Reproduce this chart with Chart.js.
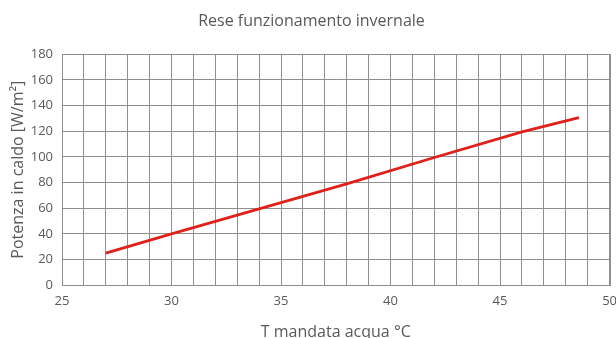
<!DOCTYPE html>
<html>
<head>
<meta charset="utf-8">
<script src="https://cdn.jsdelivr.net/npm/chart.js@4"></script>
<style>
  html,body{margin:0;padding:0;background:#fff;overflow:hidden;}
  #wrap{width:625px;height:342px;}
</style>
</head>
<body>
<div id="wrap"><canvas id="chart" width="625" height="342"></canvas></div>
<script>
  // curva resa invernale: temperatura mandata -> potenza
  const tMandata = [27, 30, 34, 38, 42, 46, 48.6];
  const potenza  = [25, 40, 59.5, 79, 99.5, 119.5, 130.5];

  const X_MIN = 25, X_MAX = 50, X_STEP = 1, X_LABEL_EVERY = 5;
  const Y_MIN = 0, Y_MAX = 180, Y_STEP = 20;

  const GREY_TXT = '#595959';
  const GRID = '#8f8f8f';
  const FONT = "'Open Sans', sans-serif";

  const pts = tMandata.map((t,i)=>({x:t, y:potenza[i]}));

  new Chart(document.getElementById('chart'), {
    type:'line',
    data:{ datasets:[{
      data: pts,
      borderColor:'#e0201b',
      borderWidth:2.8,
      pointRadius:0,
      tension:0,
      fill:false
    }]},
    options:{
      responsive:false,
      animation:false,
      layout:{ padding:{ left:9, right:11, top:3, bottom:0 } },
      plugins:{
        legend:{display:false},
        tooltip:{enabled:false},
        title:{
          display:true,
          text:'Rese funzionamento invernale',
          color:GREY_TXT,
          font:{family:FONT, size:16, weight:'normal'},
          padding:{top:9, bottom:23}
        }
      },
      scales:{
        x:{
          type:'linear',
          min:X_MIN, max:X_MAX,
          ticks:{
            stepSize:X_STEP,
            autoSkip:false,
            maxRotation:0,
            color:GREY_TXT,
            font:{family:FONT, size:13},
            padding:8,
            callback:v => (v % X_LABEL_EVERY === 0 ? String(v) : '')
          },
          grid:{ color:GRID, lineWidth:1, drawTicks:false },
          border:{ color:GRID, width:1 },
          title:{
            display:true,
            text:'T mandata acqua °C',
            color:GREY_TXT,
            font:{family:FONT, size:16},
            padding:{top:6, bottom:0}
          }
        },
        y:{
          min:Y_MIN, max:Y_MAX,
          afterFit(scale){ scale.width = 53; },
          ticks:{
            stepSize:Y_STEP,
            color:GREY_TXT,
            font:{family:FONT, size:13},
            padding:9
          },
          grid:{ color:GRID, lineWidth:1, drawTicks:false },
          border:{ color:GRID, width:1 },
          title:{
            display:true,
            text:'Potenza in caldo [W/m²]',
            color:GREY_TXT,
            font:{family:FONT, size:16},
            padding:{top:0, bottom:3}
          }
        }
      }
    },
    plugins:[{
      // riquadro esterno dell'area del grafico
      id:'frame',
      afterDraw(c){
        const {ctx, chartArea:a} = c;
        ctx.save();
        ctx.strokeStyle = GRID;
        ctx.lineWidth = 1;
        ctx.strokeRect(Math.round(a.left)+0.5, Math.round(a.top)+0.5, Math.round(a.right-a.left), Math.round(a.bottom-a.top));
        ctx.restore();
      }
    }]
  });
</script>
</body>
</html>
